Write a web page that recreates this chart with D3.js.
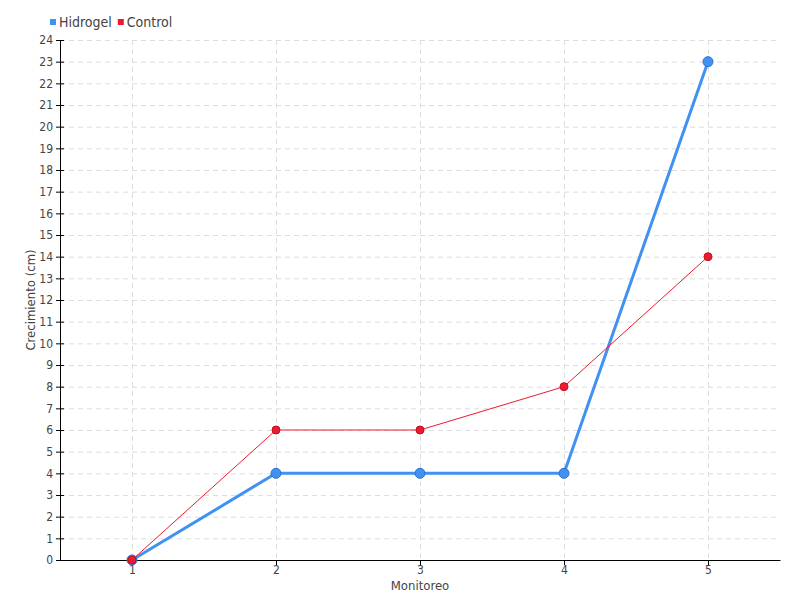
<!DOCTYPE html>
<html>
<head>
<meta charset="utf-8">
<script src="https://cdn.jsdelivr.net/npm/d3@7"></script>
<style>
  body { margin: 0; background: #fff; }
  text { font-family: "Liberation Sans Narrow", "DejaVu Sans Condensed", "Roboto", sans-serif; fill: #444; }
</style>
</head>
<body>
<script>
const width = 800;
const height = 600;

const categories = ["1", "2", "3", "4", "5"];
const hidrogel = [0, 4, 4, 4, 23];
const control = [0, 6, 6, 8, 14];
const yTicks = d3.range(0, 25);

const margin = { top: 40, right: 20, bottom: 40, left: 60 };

const svg = d3.select("body").append("svg")
  .attr("width", width)
  .attr("height", height);

const x = d3.scalePoint()
  .domain(categories)
  .range([margin.left, width - margin.right])
  .padding(0.5);

const y = d3.scaleLinear()
  .domain([0, 24])
  .range([height - margin.bottom, margin.top]);

// grid
const grid = svg.append("g")
  .attr("stroke", "#ddd")
  .attr("stroke-dasharray", "5,4");

grid.selectAll(".hg")
  .data(yTicks.slice(1))
  .join("line")
  .attr("x1", margin.left)
  .attr("x2", width - margin.right)
  .attr("y1", (d) => y(d) + 0.5)
  .attr("y2", (d) => y(d) + 0.5);

grid.selectAll(".vg")
  .data(categories)
  .join("line")
  .attr("x1", (d) => x(d) + 0.5)
  .attr("x2", (d) => x(d) + 0.5)
  .attr("y1", margin.top)
  .attr("y2", height - margin.bottom);

// axes
const yAxis = svg.append("g")
  .attr("transform", `translate(${margin.left},0)`)
  .call(d3.axisLeft(y).tickValues(yTicks).tickSize(4).tickPadding(3).tickFormat(d3.format("d")));
yAxis.select(".domain").attr("stroke", "#000");
yAxis.selectAll(".tick line").attr("x2", 4).attr("x1", -4).attr("stroke", "#000");
yAxis.selectAll(".tick text").attr("font-size", 12).attr("fill", "#444");

const xAxis = svg.append("g")
  .attr("transform", `translate(0,${height - margin.bottom})`)
  .call(d3.axisBottom(x).tickSize(5).tickPadding(0).tickSizeOuter(0));
xAxis.select(".domain").attr("stroke", "#000");
xAxis.selectAll(".tick line").attr("stroke", "#000");
xAxis.selectAll(".tick text").attr("font-size", 12).attr("fill", "#444");

// axis titles
svg.append("text")
  .attr("transform", `translate(35,${(margin.top + height - margin.bottom) / 2}) rotate(-90)`)
  .attr("text-anchor", "middle")
  .attr("font-size", 13)
  .text("Crecimiento (cm)");

svg.append("text")
  .attr("x", (margin.left + width - margin.right) / 2)
  .attr("y", 590)
  .attr("text-anchor", "middle")
  .attr("font-size", 13)
  .text("Monitoreo");

// series
const series = [
  { name: "Hidrogel", values: hidrogel, color: "#3f92f2", stroke: "#2a70cc", lw: 3, r: 5 },
  { name: "Control", values: control, color: "#ee1a2d", stroke: "#c0101f", lw: 1, r: 4 }
];

const line = d3.line()
  .x((d, i) => x(categories[i]))
  .y((d) => y(d));

series.forEach((s) => {
  svg.append("path")
    .datum(s.values)
    .attr("fill", "none")
    .attr("stroke", s.color)
    .attr("stroke-width", s.lw)
    .attr("d", line);
  svg.append("g")
    .selectAll("circle")
    .data(s.values)
    .join("circle")
    .attr("cx", (d, i) => x(categories[i]))
    .attr("cy", (d) => y(d))
    .attr("r", s.r)
    .attr("fill", s.color)
    .attr("stroke", s.stroke)
    .attr("stroke-width", 1);
});

// legend
const legend = svg.append("g").attr("transform", "translate(50,15)");
let lx = 0;
series.forEach((s) => {
  const g = legend.append("g").attr("transform", `translate(${lx},0)`);
  g.append("rect").attr("y", 4).attr("width", 6).attr("height", 6).attr("fill", s.color);
  const t = g.append("text").attr("x", 9).attr("y", 12).attr("font-size", 14).text(s.name);
  lx += 9 + t.node().getComputedTextLength() + 6;
});
</script>
</body>
</html>
